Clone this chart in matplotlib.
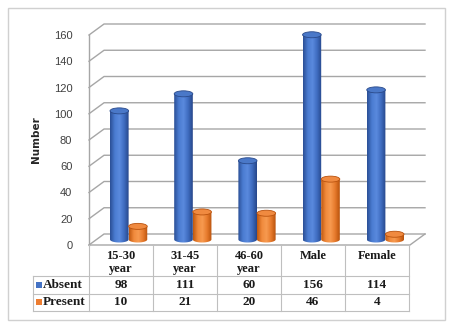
import numpy as np
import matplotlib.pyplot as plt
from matplotlib.patches import Rectangle, Ellipse, Polygon
from matplotlib.colors import LinearSegmentedColormap

# data
categories = ['15-30\nyear', '31-45\nyear', '46-60\nyear', 'Male', 'Female']
series = ['Absent', 'Present']
absent = [98, 111, 60, 156, 114]
present = [10, 21, 20, 46, 4]
yticks = [0, 20, 40, 60, 80, 100, 120, 140, 160]

W, H = 450, 327
fig = plt.figure(figsize=(4.5, 3.27), dpi=100)


def fx(px):
    return px / W


def fy(py):
    return 1 - py / H


# outer frame
fig.add_artist(Rectangle((fx(8), fy(320)), fx(445) - fx(8), fy(8) - fy(320),
                         transform=fig.transFigure, fill=False,
                         edgecolor='#d0d0d0', lw=1))

# main plot area (front wall + depth)
ax = fig.add_axes([fx(89), fy(245), fx(425) - fx(89), fy(24) - fy(245)])
dx = 15 / 64.0          # depth in category units
dy = 11 / 1.3125        # depth in value units
for s in ax.spines.values():
    s.set_visible(False)
ax.set_xticks([])
ax.set_yticks(yticks)
ax.set_yticklabels([str(t) for t in yticks], fontsize=8, color='#404040',
                   family='Liberation Sans')
ax.tick_params(axis='y', length=0, pad=12)
ax.patch.set_alpha(0)

grid_c = '#a6a6a6'
n = len(categories)
for t in yticks:
    ax.plot([-0.5, -0.5 + dx, n - 0.5 + dx], [t, t + dy, t + dy],
            color=grid_c, lw=1, clip_on=False, zorder=1)
ax.plot([-0.5, -0.5], [0, 160], color=grid_c, lw=1, clip_on=False, zorder=1)
ax.plot([-0.5, n - 0.5, n - 0.5 + dx], [0, 0, dy], color=grid_c, lw=1,
        clip_on=False, zorder=1)

# cylinders
cmaps = [
    LinearSegmentedColormap.from_list('b', ['#2b4f96', '#4a7bd0', '#5a8ade', '#3f6cc0', '#27478a']),
    LinearSegmentedColormap.from_list('o', ['#c0580f', '#f08a3c', '#f79a50', '#e67a2c', '#b8520c']),
]
tops = ['#4a78c8', '#f08a40']
edges = ['#2a4a8a', '#b9520e']
bw = 0.29
eh = 6 / 1.3125
grad = np.linspace(0, 1, 64).reshape(1, -1)
for si, vals in enumerate([absent, present]):
    for i, v in enumerate(vals):
        cx = i + dx / 2 + (si - 0.5) * bw
        yb = dy / 2
        top = v + dy / 2
        th = np.linspace(np.pi, 2 * np.pi, 40)
        pts = [(cx - bw / 2, top)]
        pts += list(zip(cx + bw / 2 * np.cos(th), yb + eh / 2 * np.sin(th)))
        pts += [(cx + bw / 2, top)]
        body = Polygon(pts, closed=True, facecolor='none', edgecolor='none')
        ax.add_patch(body)
        im = ax.imshow(grad, cmap=cmaps[si], aspect='auto', zorder=3 + si,
                       extent=[cx - bw / 2, cx + bw / 2, yb - eh, top])
        im.set_clip_path(body)
        ax.add_patch(Ellipse((cx, top), bw, eh, facecolor=tops[si],
                             edgecolor=edges[si], lw=0.6, zorder=3.5 + si))
ax.set_xlim(-0.5, 4.5 + dx)
ax.set_ylim(0, 160 + dy)

fig.text(fx(36), fy(140), 'Number', rotation=90, ha='center', va='center',
         fontsize=7.5, fontweight='bold', color='#262626', family='DejaVu Sans')

# data table
tax = fig.add_axes([fx(33), fy(311), fx(409) - fx(33), fy(245) - fy(311)])
x0 = -0.5 - 56 / 64.0
tax.set_xlim(x0, n - 0.5)
tax.set_ylim(0, 66)
tax.axis('off')
tc = '#bfbfbf'
for yy in [0, 17, 35]:
    tax.plot([x0, n - 0.5], [yy, yy], color=tc, lw=0.8, clip_on=False)
tax.plot([x0, x0], [0, 35], color=tc, lw=0.8, clip_on=False)
for k in range(n + 1):
    tax.plot([k - 0.5, k - 0.5], [0, 66], color=tc, lw=0.8, clip_on=False)

tfont = dict(family='Liberation Serif', fontweight='bold', color='#1a1a1a')
for i, c in enumerate(categories):
    tax.text(i, 61, c, ha='center', va='top', linespacing=1.15, fontsize=9,
             **tfont)
key_colors = ['#4472c4', '#ed7d31']
for si, (name, vals) in enumerate(zip(series, [absent, present])):
    yc = 26 - 17 * si
    tax.add_patch(Rectangle((x0 + 3 / 64, yc - 3), 6 / 64, 6,
                            facecolor=key_colors[si], edgecolor='none'))
    tax.text(x0 + 10 / 64, yc, name, ha='left', va='center', fontsize=9.5,
             **tfont)
    for i, v in enumerate(vals):
        tax.text(i, yc, str(v), ha='center', va='center', fontsize=9.5,
                 **tfont)

fig.savefig('out.png', dpi=100)
